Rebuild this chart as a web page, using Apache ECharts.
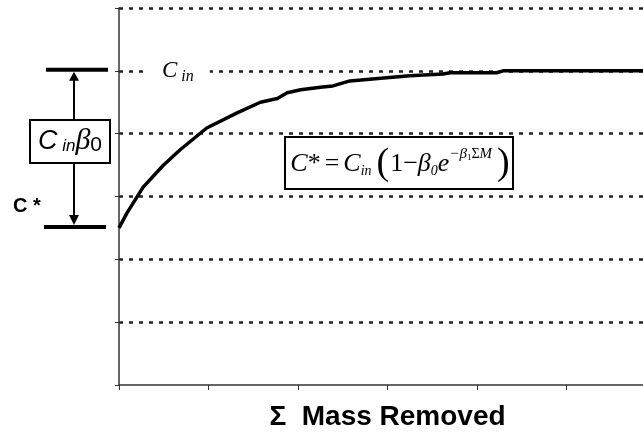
<!DOCTYPE html>
<html>
<head>
<meta charset="utf-8">
<title>C* vs mass removed</title>
<script src="https://cdn.jsdelivr.net/npm/echarts@6/dist/echarts.min.js"></script>
<style>
  html, body { margin: 0; padding: 0; background: #fff; }
  #chart { width: 643px; height: 434px; }
</style>
</head>
<body>
<div id="chart"></div>
<script>
// values (x = cumulative mass removed, y = C*)
var massRemoved = [0, 0.09, 0.27, 0.49, 0.68, 0.98, 1.32, 1.58, 1.77, 1.88, 2.03, 2.25, 2.39, 2.58, 2.99, 3.25, 3.62, 3.70, 4.22, 4.29, 6];
var cStar       = [2.50, 2.74, 3.15, 3.49, 3.74, 4.09, 4.33, 4.50, 4.56, 4.65, 4.70, 4.74, 4.76, 4.84, 4.89, 4.92, 4.95, 4.97, 4.97, 5.00, 5.00];
var cIn = 5;          // inlet concentration level (dashed line labelled C in)
var yTicks = [0, 1, 2, 3, 4, 5, 6];
var xTicks = [0, 1, 2, 3, 4, 5, 6];

var chartDom = document.getElementById('chart');
var myChart = echarts.init(chartDom);

var option = {
  animation: false,
  backgroundColor: '#fff',
  grid: { left: 119, right: -13, top: 8, bottom: 49, outerBoundsMode: 'none' },
  xAxis: {
    type: 'value',
    min: xTicks[0],
    max: xTicks[xTicks.length - 1],
    interval: 1,
    name: 'Σ  Mass Removed',
    nameLocation: 'middle',
    nameGap: 18,
    nameTextStyle: {
      fontFamily: 'Liberation Sans',
      fontWeight: 'bold',
      fontSize: 28,
      color: '#000'
    },
    axisLine: { lineStyle: { color: '#333', width: 1.5 } },
    axisTick: { show: true, length: 5, lineStyle: { color: '#333' } },
    axisLabel: { show: false },
    splitLine: { show: false }
  },
  yAxis: {
    type: 'value',
    min: yTicks[0],
    max: yTicks[yTicks.length - 1],
    interval: 1,
    axisLine: { show: true, lineStyle: { color: '#333', width: 1.5 } },
    axisTick: { show: true, length: 4, lineStyle: { color: '#333' } },
    axisLabel: { show: false },
    splitLine: {
      show: true,
      showMinLine: false,
      lineStyle: { color: '#222', width: 2.5, type: [4, 6] }
    }
  },
  series: [
    {
      type: 'line',
      data: massRemoved.map(function (x, i) { return [x, cStar[i]]; }),
      showSymbol: false,
      smooth: false,
      lineStyle: { color: '#000', width: 3.5 },
      z: 3
    }
  ]
};
myChart.setOption(option);

// annotations placed from the axis scale
var yIn = myChart.convertToPixel({ yAxisIndex: 0 }, cIn);
var yStar = myChart.convertToPixel({ yAxisIndex: 0 }, cStar[0]);
var arrowX = 74;

var serif = 'Liberation Serif';
var sans = 'Liberation Sans';

myChart.setOption({
  graphic: [
    // C in label on the dashed line
    {
      type: 'text', x: 147, y: yIn, z: 10,
      style: {
        text: '{c|C}{s| in}',
        verticalAlign: 'middle',
        backgroundColor: '#fff',
        padding: [4, 16, 4, 15],
        rich: {
          c: { fontFamily: serif, fontStyle: 'italic', fontSize: 23, fill: '#000' },
          s: { fontFamily: serif, fontStyle: 'italic', fontSize: 16, fill: '#000', padding: [12, 0, 0, 0] }
        }
      }
    },
    // level bars
    { type: 'line', z: 10, shape: { x1: 46, y1: yIn - 1, x2: 108, y2: yIn - 1 }, style: { stroke: '#000', lineWidth: 4 } },
    { type: 'line', z: 10, shape: { x1: 44, y1: yStar - 1, x2: 106, y2: yStar - 1 }, style: { stroke: '#000', lineWidth: 4 } },
    // double arrow
    { type: 'line', z: 10, shape: { x1: arrowX, y1: yIn + 6, x2: arrowX, y2: yStar - 10 }, style: { stroke: '#000', lineWidth: 2 } },
    { type: 'polygon', z: 10, shape: { points: [[arrowX, yIn + 1], [arrowX - 5, yIn + 10], [arrowX + 5, yIn + 10]] }, style: { fill: '#000' } },
    { type: 'polygon', z: 10, shape: { points: [[arrowX, yStar - 3], [arrowX - 5, yStar - 13], [arrowX + 5, yStar - 13]] }, style: { fill: '#000' } },
    // C_in beta_0 box
    { type: 'rect', z: 11, shape: { x: 30, y: 120, width: 80, height: 43 }, style: { fill: '#fff', stroke: '#000', lineWidth: 2 } },
    {
      type: 'text', x: 70, y: 141, z: 12,
      style: {
        text: '{c|C}{s| in}{b|β}{z|0}',
        align: 'center',
        verticalAlign: 'middle',
        rich: {
          c: { fontFamily: sans, fontStyle: 'italic', fontSize: 27, fill: '#000' },
          s: { fontFamily: sans, fontStyle: 'italic', fontSize: 17, fill: '#000', padding: [10, 0, 0, 0] },
          b: { fontFamily: serif, fontStyle: 'italic', fontSize: 30, fill: '#000' },
          z: { fontFamily: sans, fontSize: 21, fill: '#000', padding: [8, 0, 0, 0] }
        }
      }
    },
    // C * label
    {
      type: 'text', x: 13, y: 206, z: 10,
      style: {
        text: 'C *',
        verticalAlign: 'middle',
        fontFamily: sans, fontWeight: 'bold', fontSize: 20, fill: '#000'
      }
    },
    // equation box
    { type: 'rect', z: 11, shape: { x: 285, y: 137, width: 228, height: 52 }, style: { fill: '#fff', stroke: '#000', lineWidth: 2 } },
    {
      type: 'text', x: 400, y: 164, z: 12,
      style: {
        text: '{i|C}{n|*}{eq|=}{i|C}{sb|in}{p|(}{n|1−}{i|β}{sb|0}{i|e}{sp|−β}{sq|1}{sn|Σ}{sp|M}{pr|)}',
        align: 'center',
        verticalAlign: 'middle',
        rich: {
          i: { fontFamily: serif, fontStyle: 'italic', fontSize: 26, fill: '#000' },
          n: { fontFamily: serif, fontSize: 26, fill: '#000' },
          eq: { fontFamily: serif, fontSize: 26, fill: '#000', padding: [0, 4, 0, 4] },
          sb: { fontFamily: serif, fontStyle: 'italic', fontSize: 14, fill: '#000', padding: [14, 0, 0, 0] },
          p: { fontFamily: serif, fontSize: 38, fill: '#000', padding: [0, 1, 0, 5] },
          pr: { fontFamily: serif, fontSize: 38, fill: '#000', padding: [0, 0, 0, 5] },
          sp: { fontFamily: serif, fontStyle: 'italic', fontSize: 15, fill: '#000', padding: [0, 0, 20, 0] },
          sn: { fontFamily: serif, fontSize: 14, fill: '#000', padding: [0, 0, 20, 0] },
          sq: { fontFamily: serif, fontSize: 9, fill: '#000', padding: [0, 0, 12, 0] }
        }
      }
    }
  ]
});
</script>
</body>
</html>
